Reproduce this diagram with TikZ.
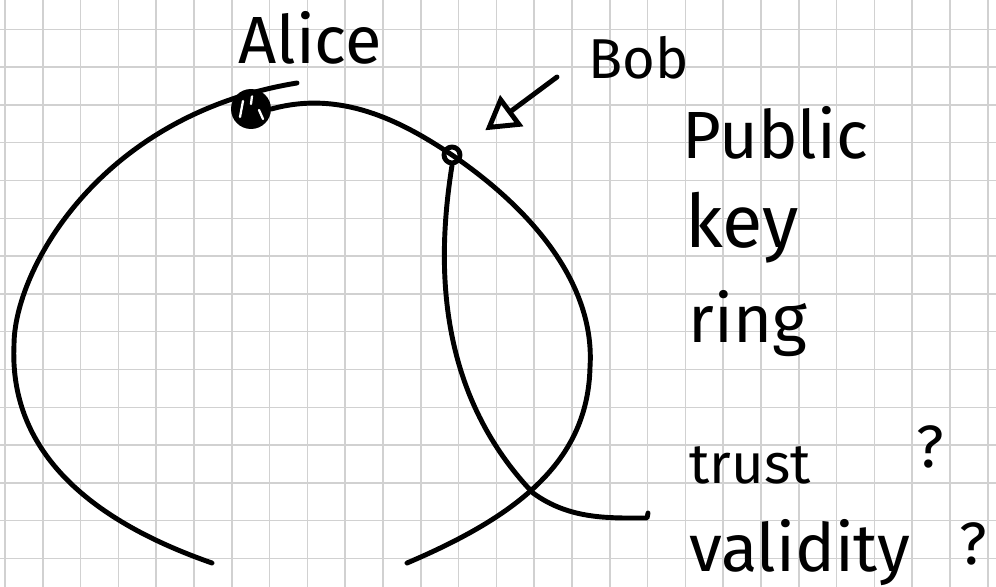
\documentclass[tikz,border=0pt]{standalone}
\usepackage{fontspec}
\setmainfont{Fira Sans}
\usetikzlibrary{arrows.meta}
\usetikzlibrary{positioning}

\begin{document}
\begin{tikzpicture}[x=0.02cm, y=-0.02cm, line cap=round, line join=round,          % pixel-like units
                        gridline/.style = {draw=black!18, line width=0.9pt},             % squared paper
                        ink/.style = {draw=black, line width=2.8pt},                      % pen strokes
                        hand/.style = {inner sep=0pt, font=\fontsize{38}{42}\selectfont}, % handwriting
                        pointer/.style = {ink, -{Triangle[open, length=0.66cm, width=0.76cm, line width=2.8pt]}}]
        \useasboundingbox (0,0) rectangle (996,587);
        %paper
        \foreach \i in {0,...,26}
            \draw[gridline] ({5+37.8*\i},0) -- ({5+37.8*\i},587);
        \foreach \j in {0,...,14}
            \draw[gridline] (0,{29.3+37.8*\j}) -- (996,{29.3+37.8*\j});
        %points on the ring
        \node[circle, fill=black, minimum size=0.8cm, inner sep=0pt] (alice) at (251,109) {};
        \node[ink, circle, minimum size=0.32cm, inner sep=0pt] (bob) at (452,155) {};
        \coordinate (bobtail) at (557,77);
        %labels
        \node[hand] (alicelbl) at (310,38) {Alice};
        \node[hand, font=\fontsize{32}{36}\selectfont] (boblbl) at (639,58) {Bob};
        \node[hand] (public) at (775,133) {Public};
        \node[hand, font=\fontsize{42}{46}\selectfont] (key) at (742,228) {key};
        \node[hand] (ring) at (748,324) {ring};
        \node[hand, font=\fontsize{32}{36}\selectfont] (trust) at (750,465) {trust};
        \node[hand] (validity) at (800,553) {validity};
        \node[hand, font=\fontsize{34}{38}\selectfont] (q1) at (930,447) {?};
        \node[hand, font=\fontsize{34}{38}\selectfont] (q2) at (973,544) {?};
        %scribble inside alice
        \draw[white, line width=1.3pt] (243,101) -- (240,117) (259,110) -- (263,119) (252,96) -- (251,104);
        %key ring
        \draw[ink] (212,563) .. controls (60,510) and (10,430) .. (14,345)
                             .. controls (14,270) and (100,115) .. (297,83);
        \draw[ink] (alice.east) .. controls (340,90) and (400,120) .. (bob.center)
                                .. controls (540,215) and (595,290) .. (590,367)
                                .. controls (588,460) and (520,515) .. (407,563);
        %bob's loop
        \draw[ink] (bob.south) .. controls (437,260) and (435,390) .. (533,493)
                               .. controls (570,520) and (610,518) .. (647,518) -- (648,513);
        %pointer to bob
        \draw[pointer, shorten >=0.62cm] (bobtail) -- (bob);
    \end{tikzpicture}
\end{document}
